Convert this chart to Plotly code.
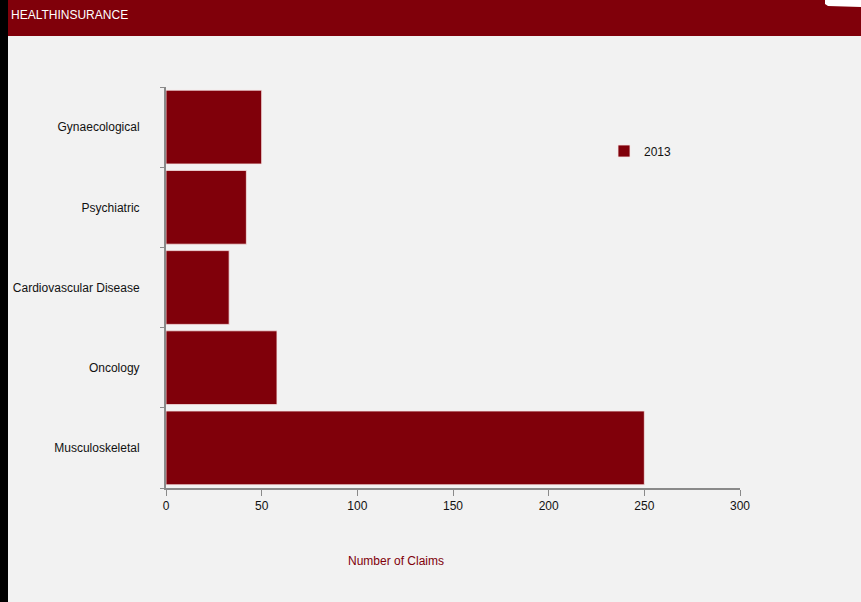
import plotly.graph_objects as go

categories = ["Musculoskeletal", "Oncology", "Cardiovascular Disease", "Psychiatric", "Gynaecological"]
tick_text = ["Musculoskeletal", "Oncology", "Cardiovascular Disease", "Psychiatric", "Gynaecological"]
claims_2013 = [250, 58, 33, 42, 50]
series_name = "2013"
x_ticks = [0, 50, 100, 150, 200, 250, 300]

RED = "#80000a"
FONT = "Liberation Sans, Arial, sans-serif"

fig = go.Figure()
fig.add_trace(go.Bar(
    y=categories, x=claims_2013, orientation="h", name=series_name,
    marker=dict(color=RED, line=dict(color="#f7e6e6", width=0.8)),
))

W, H = 574, 401  # plot area size
L, T = 166, 87


def px(x):
    return (x - L) / W


def py(y):
    return 1 + (T - y) / H


swoosh = [(825, -1), (862, -1), (862, 7), (828, 6), (825, 4)]
swoosh_path = "M " + " L ".join("%f %f" % (px(a), py(b)) for a, b in swoosh) + " Z"

fig.update_layout(
    width=861, height=602, autosize=False,
    paper_bgcolor="#f2f2f2", plot_bgcolor="#f2f2f2",
    margin=dict(l=166, r=121, t=87, b=114),
    bargap=0.08,
    font=dict(family=FONT, size=12, color="#111111"),
    showlegend=True,
    legend=dict(x=px(604), y=py(151), xanchor="left", yanchor="middle",
                bgcolor="rgba(0,0,0,0)", font=dict(size=12, family=FONT),
                itemwidth=30),
    xaxis=dict(range=[0, 300], tickvals=x_ticks, showgrid=False, zeroline=False,
               showline=True, linecolor="#8a8a8a", linewidth=2, automargin=False,
               ticks="outside", ticklen=6, tickcolor="#8a8a8a", tickwidth=1,
               tickfont=dict(size=12, family=FONT)),
    yaxis=dict(type="category", categoryorder="array", categoryarray=categories,
               tickvals=categories, ticktext=tick_text, automargin=False,
               showgrid=False, zeroline=False, showline=True,
               linecolor="#8a8a8a", linewidth=2, ticks="outside", ticklen=4,
               tickcolor="#8a8a8a", tickson="boundaries",
               ticklabelstandoff=22, tickfont=dict(size=12, family=FONT)),
    shapes=[
        dict(type="rect", xref="paper", yref="paper", x0=px(0), x1=px(862),
             y0=py(36), y1=py(-1), fillcolor=RED, line=dict(width=0), layer="below"),
        dict(type="rect", xref="paper", yref="paper", x0=px(-1), x1=px(8),
             y0=py(603), y1=py(-1), fillcolor="#000000", line=dict(width=0), layer="below"),
        dict(type="path", xref="paper", yref="paper", path=swoosh_path,
             fillcolor="#ffffff", line=dict(width=0)),
    ],
    annotations=[
        dict(text="HEALTHINSURANCE", xref="paper", yref="paper",
             x=px(9), y=py(15), xanchor="left", yanchor="middle",
             showarrow=False, font=dict(color="#ffffff", size=12, family=FONT)),
        dict(text="Number of Claims", xref="paper", yref="paper",
             x=px(396), y=py(561), xanchor="center", yanchor="middle",
             showarrow=False, font=dict(color=RED, size=12, family=FONT)),
    ],
)

fig.write_html("out.html", config={"displayModeBar": False},
               post_script="document.body.style.margin='0';")
